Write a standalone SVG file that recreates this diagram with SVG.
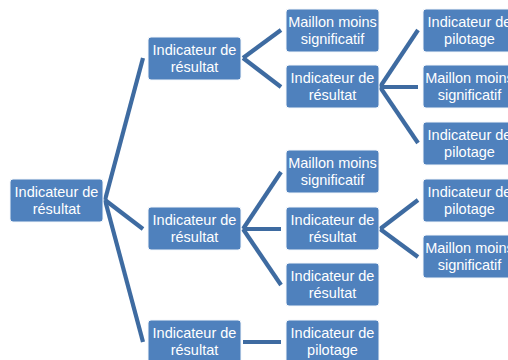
<svg xmlns="http://www.w3.org/2000/svg" width="508" height="360" viewBox="0 0 508 360">
<style>
.n rect{fill:#4F81BD;stroke:#F4F7FB;stroke-width:1}
.n text{fill:#FFFFFF;font-family:"Liberation Sans",Arial,sans-serif;font-size:14.5px;text-anchor:middle}
#connectors line{stroke:#3E6BA1;stroke-width:4.2;stroke-linecap:butt}
</style>
<rect width="508" height="360" fill="#FFFFFF"/>
<g id="connectors">
<line x1="105" y1="200" x2="143" y2="58"/>
<line x1="105" y1="200" x2="143" y2="229"/>
<line x1="105" y1="200" x2="143" y2="342"/>
<line x1="243" y1="58" x2="281" y2="30"/>
<line x1="243" y1="58" x2="281" y2="87"/>
<line x1="380" y1="87" x2="418" y2="30"/>
<line x1="380" y1="87" x2="418" y2="87"/>
<line x1="380" y1="87" x2="418" y2="143"/>
<line x1="243" y1="229" x2="281" y2="172"/>
<line x1="243" y1="229" x2="281" y2="229"/>
<line x1="243" y1="229" x2="281" y2="285"/>
<line x1="380" y1="229" x2="418" y2="200"/>
<line x1="380" y1="229" x2="418" y2="257"/>
<line x1="243" y1="342" x2="281" y2="342"/>
</g>
<g id="root" class="n"><rect x="10" y="179" width="93" height="43" rx="3"/><text x="56.5" y="197">Indicateur de</text><text x="56.5" y="214">résultat</text></g>
<g id="a1" class="n"><rect x="148" y="37" width="93" height="43" rx="3"/><text x="194.5" y="55">Indicateur de</text><text x="194.5" y="72">résultat</text></g>
<g id="a2" class="n"><rect x="148" y="207" width="93" height="43" rx="3"/><text x="194.5" y="225">Indicateur de</text><text x="194.5" y="242">résultat</text></g>
<g id="a3" class="n"><rect x="148" y="320" width="93" height="43" rx="3"/><text x="194.5" y="338">Indicateur de</text><text x="194.5" y="355">résultat</text></g>
<g id="b1" class="n"><rect x="286" y="9" width="93" height="43" rx="3"/><text x="332.5" y="27">Maillon moins</text><text x="332.5" y="44">significatif</text></g>
<g id="b2" class="n"><rect x="286" y="65" width="93" height="43" rx="3"/><text x="332.5" y="83">Indicateur de</text><text x="332.5" y="100">résultat</text></g>
<g id="b3" class="n"><rect x="286" y="150" width="93" height="43" rx="3"/><text x="332.5" y="168">Maillon moins</text><text x="332.5" y="185">significatif</text></g>
<g id="b4" class="n"><rect x="286" y="207" width="93" height="43" rx="3"/><text x="332.5" y="225">Indicateur de</text><text x="332.5" y="242">résultat</text></g>
<g id="b5" class="n"><rect x="286" y="263" width="93" height="43" rx="3"/><text x="332.5" y="281">Indicateur de</text><text x="332.5" y="298">résultat</text></g>
<g id="b6" class="n"><rect x="286" y="320" width="93" height="43" rx="3"/><text x="332.5" y="338">Indicateur de</text><text x="332.5" y="355">pilotage</text></g>
<g id="c1" class="n"><rect x="423" y="9" width="93" height="43" rx="3"/><text x="469.5" y="27">Indicateur de</text><text x="469.5" y="44">pilotage</text></g>
<g id="c2" class="n"><rect x="423" y="65" width="93" height="43" rx="3"/><text x="469.5" y="83">Maillon moins</text><text x="469.5" y="100">significatif</text></g>
<g id="c3" class="n"><rect x="423" y="122" width="93" height="43" rx="3"/><text x="469.5" y="140">Indicateur de</text><text x="469.5" y="157">pilotage</text></g>
<g id="c4" class="n"><rect x="423" y="179" width="93" height="43" rx="3"/><text x="469.5" y="197">Indicateur de</text><text x="469.5" y="214">pilotage</text></g>
<g id="c5" class="n"><rect x="423" y="235" width="93" height="43" rx="3"/><text x="469.5" y="253">Maillon moins</text><text x="469.5" y="270">significatif</text></g>
</svg>
